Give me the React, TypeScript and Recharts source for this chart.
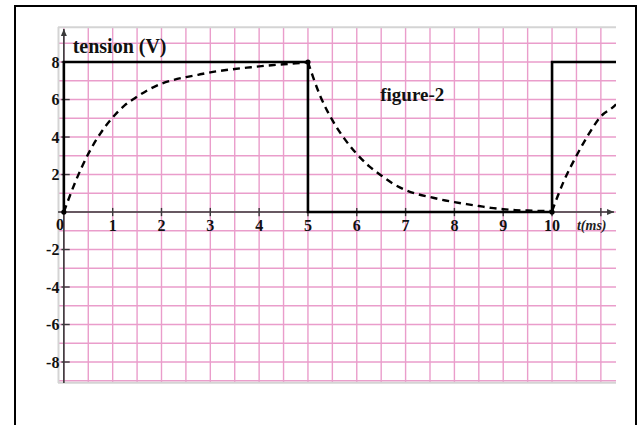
import React from 'react';
import {
  ComposedChart,
  Line,
  XAxis,
  YAxis,
  ReferenceLine,
  ReferenceDot,
} from 'recharts';

// time in ms, voltage in V
const X_MIN = -0.12;
const X_MAX = 11.31;
const Y_MIN = -9.12;
const Y_MAX = 9.87;

const gridX = [0, 0.5, 1, 1.5, 2, 2.5, 3, 3.5, 4, 4.5, 5, 5.5, 6, 6.5, 7, 7.5, 8, 8.5, 9, 9.5, 10, 10.5, 11];
const gridY = [-9, -8, -7, -6, -5, -4, -3, -2, -1, 0, 1, 2, 3, 4, 5, 6, 7, 8, 9];
const xTicks = [1, 2, 3, 4, 5, 6, 7, 8, 9, 10, 11];
const xTickLabels = ['1', '2', '3', '4', '5', '6', '7', '8', '9', '10', ''];
const yTicks = [8, 6, 4, 2, -2, -4, -6, -8];

// generator square wave
const squareT = [0, 0, 5, 5, 10, 10, 11.31];
const squareV = [0, 8, 8, 0, 0, 8, 8];

// capacitor voltage
const chargeT = [0, 0.25, 0.5, 0.75, 1, 1.25, 1.5, 1.75, 2, 2.25, 2.5, 2.75, 3, 3.25, 3.5, 3.75, 4, 4.25, 4.5, 4.75, 5];
const chargeV = [0, 1.7, 3.1, 4.2, 5.05, 5.7, 6.15, 6.55, 6.85, 7.05, 7.2, 7.32, 7.45, 7.55, 7.63, 7.7, 7.77, 7.83, 7.88, 7.93, 8];
const dischargeT = [5, 5.25, 5.5, 5.75, 6, 6.25, 6.5, 6.75, 7, 7.25, 7.5, 7.75, 8, 8.25, 8.5, 8.75, 9, 9.25, 9.5, 9.75, 10];
const dischargeV = [8, 6.2, 4.9, 3.9, 3.1, 2.45, 1.95, 1.5, 1.17, 0.95, 0.8, 0.65, 0.53, 0.42, 0.32, 0.22, 0.15, 0.1, 0.08, 0.06, 0.05];
const rechargeT = [10, 10.25, 10.5, 10.75, 11, 11.25, 11.31];
const rechargeV = [0.05, 1.7, 3.0, 4.15, 5.1, 5.6, 5.75];

const toPoints = (ts: number[], vs: number[]) => ts.map((t, i) => ({ t, v: vs[i] }));

const squareData = toPoints(squareT, squareV);
const chargeData = toPoints(chargeT, chargeV);
const dischargeData = toPoints(dischargeT, dischargeV);
const rechargeData = toPoints(rechargeT, rechargeV);

const SERIF = "'Liberation Serif', 'Times New Roman', serif";
const AXIS = '#3a3a3a';
const GRID = '#ea9dcb';
const tickFont = { fill: '#111', fontSize: 16, fontWeight: 'bold', fontFamily: SERIF };

// axis line with a small arrow head at its far end
const ArrowLine = (p: any) => {
  const { x1, y1, x2, y2 } = p;
  const a = Math.atan2(y2 - y1, x2 - x1);
  const L = 7;
  const W = 3;
  const bx = x2 - L * Math.cos(a);
  const by = y2 - L * Math.sin(a);
  const head = `M${x2},${y2} L${bx - W * Math.sin(a)},${by + W * Math.cos(a)} L${bx + W * Math.sin(a)},${by - W * Math.cos(a)} Z`;
  return (
    <g>
      <line x1={x1} y1={y1} x2={x2} y2={y2} stroke={AXIS} strokeWidth={1.6} />
      <path d={head} fill={AXIS} />
    </g>
  );
};

export default function App() {
  return (
    <div style={{ position: 'absolute', left: 0, top: 0, width: 639, height: 425, overflow: 'hidden', background: '#fff' }}>
      <div
        style={{
          position: 'absolute',
          left: 14,
          top: 5,
          width: 623,
          height: 460,
          border: '2px solid #000',
          boxSizing: 'border-box',
        }}
      />
      <div style={{ position: 'absolute', left: 0, top: 0 }}>
        <ComposedChart width={639} height={425} margin={{ top: 27, right: 23, bottom: 42, left: 58 }}>
          <XAxis type="number" dataKey="t" domain={[X_MIN, X_MAX]} allowDataOverflow hide />
          <YAxis type="number" domain={[Y_MIN, Y_MAX]} allowDataOverflow hide />

          {/* graph paper */}
          {gridX.map((v) => (
            <ReferenceLine key={`gx-${v}`} x={v} stroke={GRID} strokeWidth={1.4} />
          ))}
          {gridY.map((v) => (
            <ReferenceLine key={`gy-${v}`} y={v} stroke={GRID} strokeWidth={1.4} />
          ))}
          <ReferenceLine segment={[{ x: X_MIN, y: 9.85 }, { x: X_MAX, y: 9.85 }]} stroke="#d4d4d4" strokeWidth={2} />
          <ReferenceLine segment={[{ x: X_MIN, y: -9.1 }, { x: X_MAX, y: -9.1 }]} stroke="#d4d4d4" strokeWidth={2} />
          <ReferenceLine segment={[{ x: -0.11, y: Y_MIN }, { x: -0.11, y: Y_MAX }]} stroke="#d4d4d4" strokeWidth={2} />

          {/* axes */}
          <ReferenceLine segment={[{ x: X_MIN, y: 0 }, { x: 11.27, y: 0 }]} shape={ArrowLine} />
          <ReferenceLine segment={[{ x: 0, y: Y_MIN }, { x: 0, y: 9.76 }]} shape={ArrowLine} />

          {xTicks.map((k, i) => (
            <ReferenceLine
              key={`xt-${k}`}
              segment={[{ x: k, y: 0.22 }, { x: k, y: -0.22 }]}
              stroke={AXIS}
              strokeWidth={1.4}
              label={{ value: xTickLabels[i], position: 'bottom', offset: 3, ...tickFont }}
            />
          ))}
          {yTicks.map((k) => (
            <ReferenceLine
              key={`yt-${k}`}
              segment={[{ x: -0.05, y: k }, { x: 0.12, y: k }]}
              stroke={AXIS}
              strokeWidth={1.4}
              label={{ value: String(k), position: 'left', offset: 2, ...tickFont }}
            />
          ))}
          <ReferenceDot x={-0.08} y={0} r={0} label={{ value: '0', position: 'bottom', offset: 7, ...tickFont }} />

          <Line data={squareData} dataKey="v" type="linear" stroke="#000" strokeWidth={2.6} dot={false} isAnimationActive={false} />
          <Line data={chargeData} dataKey="v" type="monotone" stroke="#000" strokeWidth={2.4} strokeDasharray="7 5" dot={false} isAnimationActive={false} />
          <Line data={dischargeData} dataKey="v" type="monotone" stroke="#000" strokeWidth={2.4} strokeDasharray="7 5" dot={false} isAnimationActive={false} />
          <Line data={rechargeData} dataKey="v" type="monotone" stroke="#000" strokeWidth={2.4} strokeDasharray="7 5" dot={false} isAnimationActive={false} />

          <ReferenceDot x={0} y={0} r={2.6} fill="#000" stroke="none" />
          <ReferenceDot x={5} y={8} r={2.6} fill="#000" stroke="none" />
          <ReferenceDot x={10} y={0} r={2.6} fill="#000" stroke="none" />

          <ReferenceDot
            x={0.18}
            y={8.85}
            r={0}
            label={{ value: 'tension (V)', position: 'right', offset: 0, fill: '#111', fontSize: 20, fontWeight: 'bold', fontFamily: SERIF }}
          />
          <ReferenceDot
            x={6.48}
            y={6.3}
            r={0}
            label={{ value: 'figure-2', position: 'right', offset: 0, fill: '#111', fontSize: 19, fontWeight: 'bold', fontFamily: SERIF }}
          />
          <ReferenceDot
            x={10.51}
            y={-0.69}
            r={0}
            label={{ value: 't(ms)', position: 'right', offset: 0, fill: '#222', fontSize: 14, fontWeight: 'bold', fontStyle: 'italic', fontFamily: SERIF }}
          />
        </ComposedChart>
      </div>
    </div>
  );
}
